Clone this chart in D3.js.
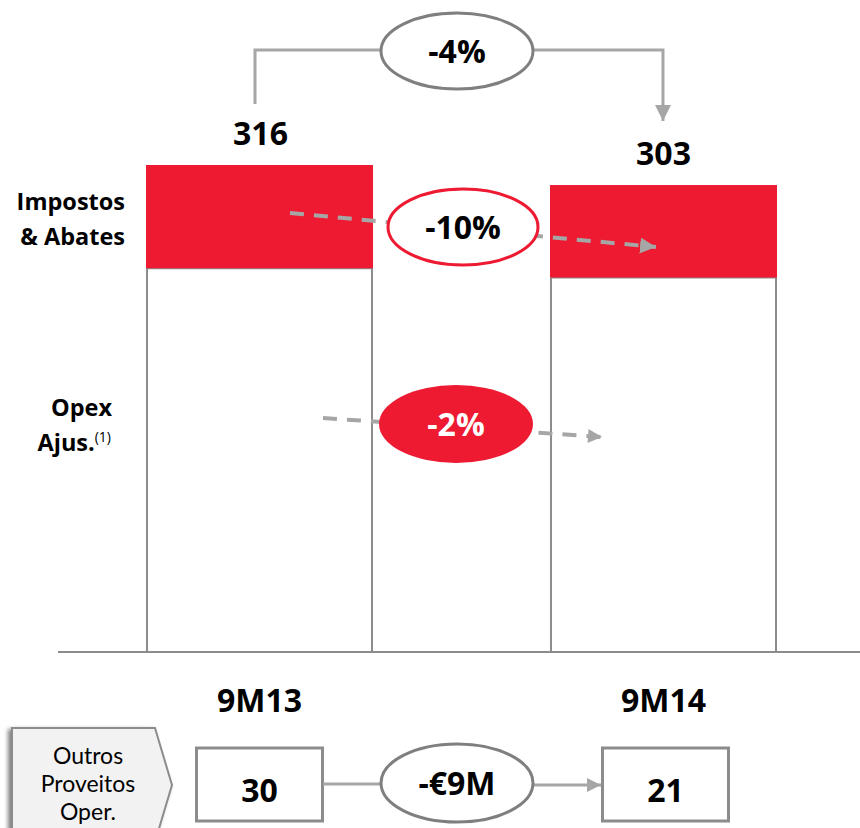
<!DOCTYPE html>
<html>
<head>
<meta charset="utf-8">
<script src="https://cdn.jsdelivr.net/npm/d3@7"></script>
<style>
  html, body { margin: 0; padding: 0; background: #fff; }
  svg { display: block; }
  text { font-family: "Open Sans", "Noto Sans", sans-serif; }
  text.lato { font-family: Lato, "Open Sans", sans-serif; }
</style>
</head>
<body>
<svg id="chart" width="860" height="828"></svg>
<script>
// ---- data ----
const categories = ["9M13", "9M14"];
const impostos = [67, 60];        // Impostos & Abates (top red segment)
const opex = [249, 243];          // Opex Ajus. (bottom white segment)
const totals = [316, 303];
const outros = [30, 21];          // Outros Proveitos Oper.
const changeTotal = "-4%";
const changeImpostos = "-10%";
const changeOpex = "-2%";
const changeOutros = "-€9M";
const outrosLabel = ["Outros", "Proveitos", "Oper."];

// ---- setup ----
const RED = "#ED1A31";
const GRAY = "#8c8c8c";
const LGRAY = "#a6a6a6";
const svg = d3.select("#chart");

const x = d3.scaleBand().domain(categories).range([147, 776]).paddingInner(0.443).paddingOuter(0);
const y = d3.scaleLinear().domain([0, 316]).range([652, 165]);

const defs = svg.append("defs");
function marker(id, color, w, h) {
  defs.append("marker").attr("id", id)
    .attr("viewBox", "0 0 10 10").attr("refX", 10).attr("refY", 5)
    .attr("markerWidth", w).attr("markerHeight", h).attr("markerUnits", "userSpaceOnUse")
    .attr("orient", "auto")
    .append("path").attr("d", "M0,0 L10,5 L0,10 Z").attr("fill", color);
}
marker("arrGray", LGRAY, 16, 16);
marker("arrSmall", LGRAY, 15, 14);
const shadow = defs.append("filter").attr("id", "shadow").attr("x", "-20%").attr("y", "-20%").attr("width", "140%").attr("height", "140%");
shadow.append("feGaussianBlur").attr("in", "SourceAlpha").attr("stdDeviation", 2);
shadow.append("feOffset").attr("dx", -3).attr("dy", 2).attr("result", "ob");
shadow.append("feComponentTransfer").append("feFuncA").attr("type", "linear").attr("slope", 0.5);
const fm = shadow.append("feMerge");
fm.append("feMergeNode");
fm.append("feMergeNode").attr("in", "SourceGraphic");

const BIG = 32;

// ---- bars ----
const bars = svg.append("g");
categories.forEach((c, i) => {
  bars.append("rect")
    .attr("x", x(c)).attr("y", y(opex[i]))
    .attr("width", x.bandwidth()).attr("height", y(0) - y(opex[i]))
    .attr("fill", "#fff").attr("stroke", GRAY).attr("stroke-width", 2);
  bars.append("rect")
    .attr("x", x(c) - 1).attr("y", y(opex[i] + impostos[i]))
    .attr("width", x.bandwidth() + 2).attr("height", y(opex[i]) - y(opex[i] + impostos[i]))
    .attr("fill", RED);
  bars.append("text")
    .attr("x", x(c) + x.bandwidth() / 2 + (i === 0 ? 1 : 0))
    .attr("y", y(totals[i]) - 20)
    .attr("text-anchor", "middle").attr("font-weight", 700).attr("font-size", BIG)
    .attr("fill", "#000").text(totals[i]);
  svg.append("text")
    .attr("x", x(c) + x.bandwidth() / 2)
    .attr("y", 712)
    .attr("text-anchor", "middle").attr("font-weight", 700).attr("font-size", BIG)
    .attr("fill", "#000").text(c);
});

// baseline
svg.append("line").attr("x1", 58).attr("x2", 860).attr("y1", y(0)).attr("y2", y(0))
  .attr("stroke", GRAY).attr("stroke-width", 2);

// ---- left labels ----
const lab = svg.append("g").attr("font-weight", 700).attr("font-size", 23.5).attr("fill", "#000").attr("text-anchor", "end");
lab.append("text").attr("x", 125).attr("y", 210).text("Impostos");
lab.append("text").attr("x", 125).attr("y", 245).text("& Abates");
lab.append("text").attr("x", 112).attr("y", 416).text("Opex");
const aj = lab.append("text").attr("x", 111).attr("y", 451);
aj.append("tspan").text("Ajus.");
aj.append("tspan").attr("font-weight", 400).attr("font-size", 14).attr("dy", -9).text("(1)");

// ---- top bracket (-4%) ----
const x0c = x(categories[0]) + 108, x1c = x(categories[1]) + 112;
svg.append("path")
  .attr("d", `M${x0c},104 L${x0c},50 L380,50`)
  .attr("fill", "none").attr("stroke", LGRAY).attr("stroke-width", 3);
svg.append("path")
  .attr("d", `M534,50 L${x1c},50 L${x1c},121`)
  .attr("fill", "none").attr("stroke", LGRAY).attr("stroke-width", 3)
  .attr("marker-end", "url(#arrGray)");
svg.append("ellipse").attr("cx", 457).attr("cy", 51).attr("rx", 76).attr("ry", 38)
  .attr("fill", "#fff").attr("stroke", "#7f7f7f").attr("stroke-width", 3);
svg.append("text").attr("x", 457).attr("y", 63).attr("text-anchor", "middle")
  .attr("font-weight", 700).attr("font-size", BIG).attr("fill", "#000").text(changeTotal);

// ---- Impostos dashed arrow (-10%) ----
svg.append("line").attr("x1", 290).attr("y1", 213).attr("x2", 656).attr("y2", 247)
  .attr("stroke", LGRAY).attr("stroke-width", 4).attr("stroke-dasharray", "14,10")
  .attr("marker-end", "url(#arrGray)");
svg.append("ellipse").attr("cx", 463).attr("cy", 227).attr("rx", 75).attr("ry", 38)
  .attr("fill", "#fff").attr("stroke", RED).attr("stroke-width", 3);
svg.append("text").attr("x", 463).attr("y", 239).attr("text-anchor", "middle")
  .attr("font-weight", 700).attr("font-size", BIG).attr("fill", "#000").text(changeImpostos);

// ---- Opex dashed arrow (-2%) ----
svg.append("line").attr("x1", 323).attr("y1", 418).attr("x2", 602).attr("y2", 437)
  .attr("stroke", LGRAY).attr("stroke-width", 4).attr("stroke-dasharray", "14,10")
  .attr("marker-end", "url(#arrSmall)");
svg.append("ellipse").attr("cx", 456).attr("cy", 424).attr("rx", 77).attr("ry", 39)
  .attr("fill", RED);
svg.append("text").attr("x", 456).attr("y", 436).attr("text-anchor", "middle")
  .attr("font-weight", 700).attr("font-size", BIG).attr("fill", "#fff").text(changeOpex);

// ---- bottom: Outros Proveitos Oper. ----
svg.append("path")
  .attr("d", "M12,728 L155,728 L172,785 L155,842 L12,842 Z")
  .attr("fill", "#f2f2f2").attr("stroke", GRAY).attr("stroke-width", 2)
  .attr("filter", "url(#shadow)");
const ol = svg.append("g").attr("font-size", 23).attr("fill", "#000").attr("text-anchor", "middle");
outrosLabel.forEach((t, k) => {
  ol.append("text").attr("class", "lato").attr("x", 88).attr("y", 764 + k * 28).text(t);
});

const boxW = 126, boxH = 73;
categories.forEach((c, i) => {
  const cx = x(c) + x.bandwidth() / 2 + (i === 0 ? 0 : 2);
  svg.append("rect").attr("x", cx - boxW / 2).attr("y", 748).attr("width", boxW).attr("height", boxH)
    .attr("fill", "#fff").attr("stroke", GRAY).attr("stroke-width", 3);
  svg.append("text").attr("x", cx).attr("y", 802).attr("text-anchor", "middle")
    .attr("font-weight", 700).attr("font-size", BIG).attr("fill", "#000").text(outros[i]);
});
svg.append("line").attr("x1", 323).attr("x2", 382).attr("y1", 784).attr("y2", 784)
  .attr("stroke", LGRAY).attr("stroke-width", 3);
svg.append("line").attr("x1", 533).attr("x2", 601).attr("y1", 785).attr("y2", 785)
  .attr("stroke", LGRAY).attr("stroke-width", 3).attr("marker-end", "url(#arrSmall)");
svg.append("ellipse").attr("cx", 457).attr("cy", 783).attr("rx", 76).attr("ry", 39)
  .attr("fill", "#fff").attr("stroke", "#7f7f7f").attr("stroke-width", 3);
svg.append("text").attr("x", 457).attr("y", 795).attr("text-anchor", "middle")
  .attr("font-weight", 700).attr("font-size", BIG).attr("fill", "#000").text(changeOutros);
</script>
</body>
</html>
